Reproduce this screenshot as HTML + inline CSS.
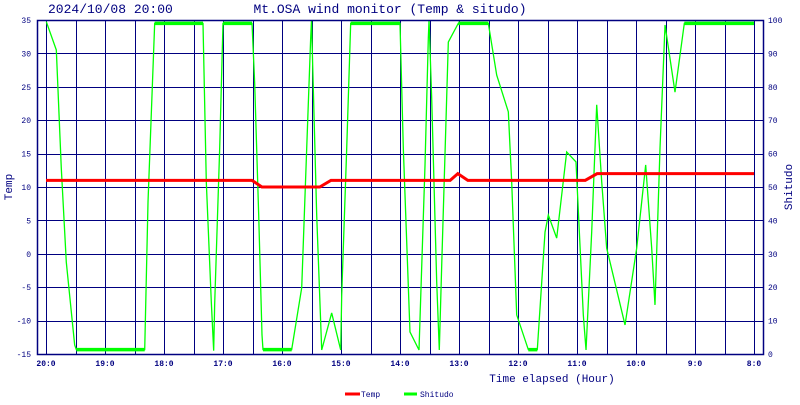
<!DOCTYPE html>
<html><head><meta charset="utf-8"><style>
body{margin:0;background:#fff;}
svg text{font-family:"Liberation Mono","DejaVu Sans Mono",monospace;fill:#000080;}
</style></head><body>
<svg id="chart" width="800" height="400" viewBox="0 0 800 400" xmlns="http://www.w3.org/2000/svg">
<rect width="800" height="400" fill="#fff"/>
<text x="48" y="13" font-size="13">2024/10/08 20:00</text>
<text x="390" y="13" font-size="13" text-anchor="middle">Mt.OSA wind monitor (Temp &amp; situdo)</text>
<g id="grid"></g>
<g id="series"></g>
<g id="axes"></g>
<text x="12" y="187" font-size="11" text-anchor="middle" transform="rotate(-90 12 187)">Temp</text>
<text x="792" y="187" font-size="11" text-anchor="middle" transform="rotate(-90 792 187)">Shitudo</text>
<text x="552" y="382" font-size="11" text-anchor="middle">Time elapsed (Hour)</text>
<g>
<line x1="345" y1="394" x2="360" y2="394" stroke="#ff0000" stroke-width="3"/>
<text x="361" y="397" font-size="8">Temp</text>
<line x1="404" y1="394" x2="417" y2="394" stroke="#00ff00" stroke-width="3"/>
<text x="420" y="397" font-size="8">Shitudo</text>
</g>
</svg>
<script>
const leftTicks = [35,30,25,20,15,10,5,0,-5,-10,-15];
const rightTicks = [100,90,80,70,60,50,40,30,20,10,0];
const xTickLabels = ["20:0","19:0","18:0","17:0","16:0","15:0","14:0","13:0","12:0","11:0","10:0","9:0","8:0"];
const tempHours = [0,3.49,3.66,4.64,4.83,6.85,6.98,7.15,9.14,9.34,12];
const tempValues = [11,11,10,10,11,11,12,11,11,12,12];
const humHours = [0.005,0.175,0.259,0.344,0.486,0.514,1.673,1.729,1.842,2.661,2.717,2.802,2.842,2.859,2.944,3.0,3.492,3.537,3.605,3.661,3.678,4.164,4.334,4.419,4.486,4.5,4.52,4.588,4.673,4.842,4.995,5.012,5.097,5.164,6.0,6.056,6.169,6.322,6.424,6.48,6.492,6.537,6.622,6.666,6.707,6.819,6.988,7.497,7.639,7.836,7.893,7.978,8.175,8.327,8.458,8.514,8.656,8.825,8.983,9.107,9.153,9.249,9.334,9.419,9.503,9.814,10.012,10.164,10.266,10.322,10.407,10.492,10.661,10.819,12];
const humValues = [99.5,91,55.7,27.5,2.7,1.3,1.3,45.5,99,99,51.5,15.5,1,15,61.7,99,99,81,41.6,5.7,1.3,1.3,19.8,61.7,94.6,100,86.5,41.6,1.2,12.3,1.2,17.6,61.7,99,99,61.7,6.6,1.2,56.6,94.6,100,76.6,21.6,1.2,26.6,93.4,99,99,83.5,72.5,51.5,11.7,1.3,1.3,36.5,41.6,34.7,60.5,57.5,11.7,1.2,36.5,74.6,51.5,31.7,8.7,31.7,56.6,31.7,14.7,61.7,98.5,78.4,99,99];

const X0=46, XW=59, YT=20, YB=354, L=37, R=763;
const xs = h => X0 + h*XW;
const yTemp = v => YT + (35-v)*(YB-YT)/50;
const yHum = v => YT + (100-v)*(YB-YT)/100;
const NS="http://www.w3.org/2000/svg";
function mk(tag, attrs, parent){const e=document.createElementNS(NS,tag);for(const k in attrs)e.setAttribute(k,attrs[k]);parent.appendChild(e);return e;}
const grid=document.getElementById('grid'), axes=document.getElementById('axes'), series=document.getElementById('series');

leftTicks.forEach((v,i)=>{
  const y=Math.round(yTemp(v))+0.5;
  const ln=mk('line',{x1:L,x2:R,y1:y,y2:y,stroke:'#000080','stroke-width':1},grid);
  
  
  const t=mk('text',{x:31,y:yTemp(v)+3,'font-size':8,'text-anchor':'end'},axes);
  t.textContent=v;
  
  
  const t2=mk('text',{x:768,y:yHum(rightTicks[i])+3,'font-size':8},axes);
  t2.textContent=rightTicks[i];
  
  
});
for(let k=0;k<=24;k++){
  const x=Math.round(xs(k/2))+0.5;
  const ln=mk('line',{x1:x,x2:x,y1:YT,y2:YB,stroke:'#000080','stroke-width':1},grid);
  
  
}
xTickLabels.forEach((s,i)=>{
  const t=mk('text',{x:xs(i),y:366,'font-size':8,'text-anchor':'middle','font-weight':'bold'},axes);
  t.textContent=s;
  
  
});
const fr=mk('rect',{x:L+0.5,y:YT+0.5,width:R-L,height:YB-YT,fill:'none',stroke:'#000080','stroke-width':1.5},axes);



const hp=mk('polyline',{points:humHours.map((h,i)=>xs(h)+','+yHum(humValues[i])).join(' '),fill:'none',stroke:'#00ff00','stroke-width':1.3},series);


for(let i=1;i<humValues.length;i++){
  const a=humValues[i-1], b=humValues[i];
  if((a>=99&&b>=99)||(a<=1.5&&b<=1.5)){
    const s=mk('line',{x1:xs(humHours[i-1]),x2:xs(humHours[i]),y1:yHum(a),y2:yHum(b),stroke:'#00ff00','stroke-width':3.5},series);
    
    
  }
}
const tp=mk('polyline',{points:tempHours.map((h,i)=>xs(h)+','+yTemp(tempValues[i])).join(' '),fill:'none',stroke:'#ff0000','stroke-width':3},series);


</script>
</body></html>
